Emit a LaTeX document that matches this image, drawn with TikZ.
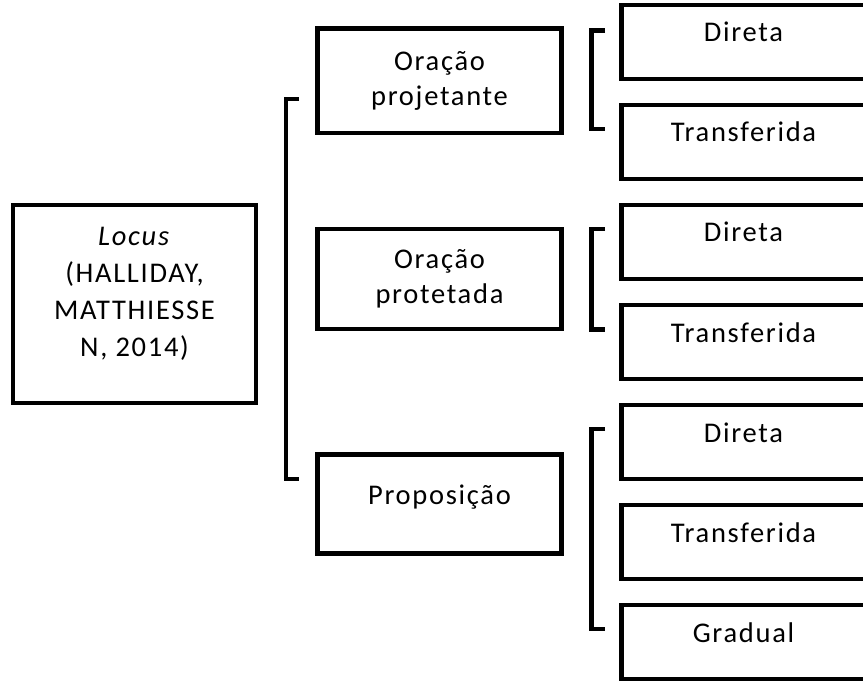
\documentclass[tikz,border=0pt]{standalone}
\usepackage{fontspec}
\setmainfont{Carlito}[LetterSpace=6]
\begin{document}
\begin{tikzpicture}[x=1pt, y=-1pt,
  every box/.style={draw, line width=4.5pt, align=center, inner sep=0pt,
    font=\fontsize{28.5}{35}\selectfont},
  mid box/.style={every box, minimum width=244},
  leaf box/.style={every box, minimum width=244, minimum height=74,
    text height=9pt, text depth=9pt},
  bracket/.style={line width=4.5pt}]
\useasboundingbox (0,0) rectangle (863,682);

% Draw the root node
\node [every box, minimum width=243, minimum height=197.5,
  font=\fontsize{28.5}{37}\selectfont, text depth=25pt] (locus) at (134.5,304)
  {\textit{Locus}\\(HALLIDAY,\\MATTHIESSE\\N, 2014)};

% Draw the middle nodes
\foreach \t/\y/\h [count=\i] in {{Oração\\projetante}/80.75/104.5, {Oração\\protetada}/279/100}
  \node [mid box, minimum height=\h] (mid-\i) at (439.5,\y) {\t};
\node [mid box, minimum height=99, text height=9pt, text depth=9pt] (mid-3) at (439.5,504) {Proposição};

% Draw the leaf nodes
\foreach \t [count=\i from 0] in {Direta,Transferida,Direta,Transferida,Direta,Transferida,Gradual}
  \node [leaf box] (leaf-\i) at (743.5,42+100*\i) {\t};

% Big bracket
\draw [bracket] (299,99) -- (286,99) -- (286,479) -- (299,479);

% Small brackets
\foreach \a/\b in {30.5/129, 229/329.5, 429/629}
  \draw [bracket] (605,\a) -- (591.5,\a) -- (591.5,\b) -- (605,\b);
\end{tikzpicture}
\end{document}
